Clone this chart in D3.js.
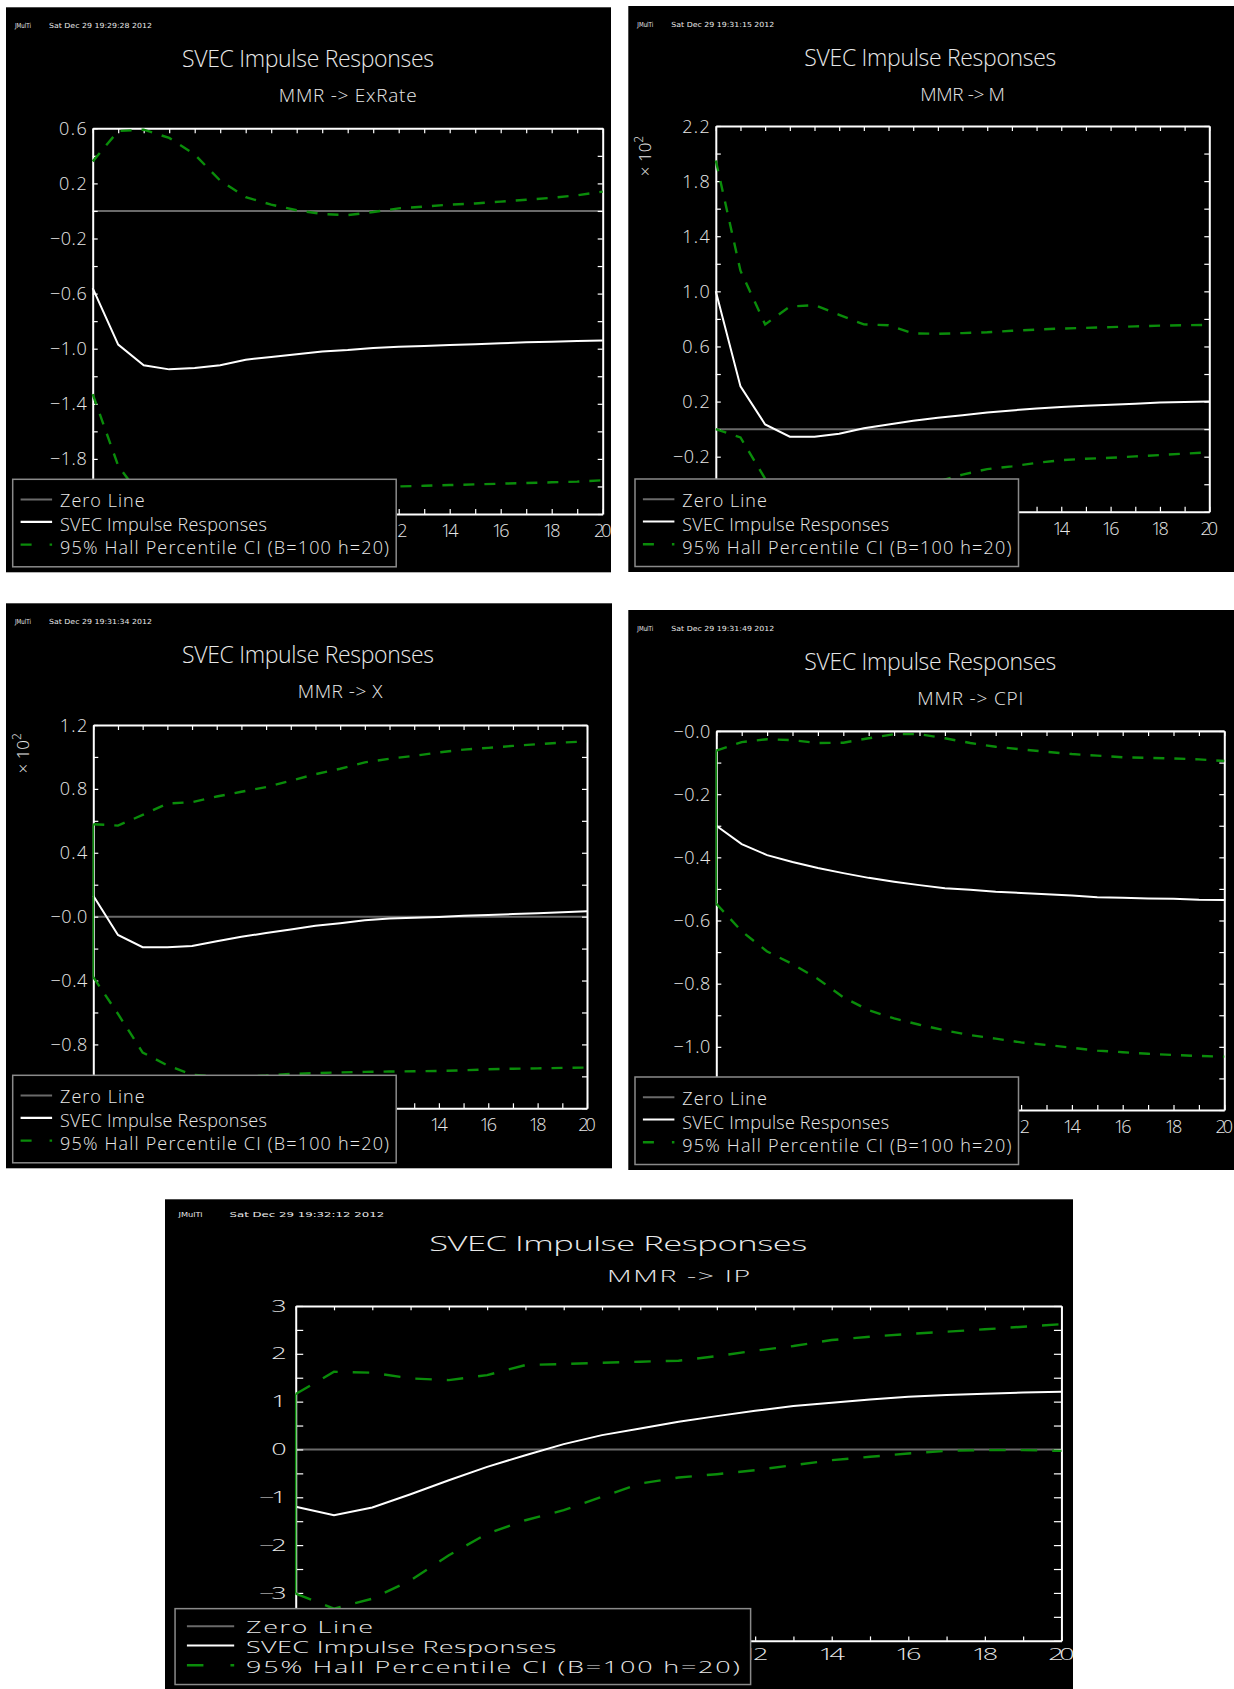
<!DOCTYPE html>
<html>
<head>
<meta charset="utf-8">
<script src="https://cdn.jsdelivr.net/npm/d3@7/dist/d3.min.js"></script>
<style>
	html, body { margin: 0; padding: 0; background: #fff; }
	svg text { font-family: "Open Sans", "DejaVu Sans", sans-serif; font-weight: 300; fill: #e8e8e8; }
	svg text.stamp { font-family: "DejaVu Sans", sans-serif; font-weight: normal; }
</style>
</head>
<body>
<svg id="chart" width="1234" height="1689"></svg>
<script>
// horizontes (eixo x)
var horizons = [0,1,2,3,4,5,6,7,8,9,10,11,12,13,14,15,16,17,18,19,20];
var xTickLabels = ["0","2","4","6","8","10","12","14","16","18","20"];

// MMR -> ExRate
var exrateIrf   = [-0.56,-0.97,-1.12,-1.15,-1.14,-1.12,-1.08,-1.06,-1.04,-1.02,-1.01,-0.995,-0.986,-0.98,-0.973,-0.968,-0.96,-0.954,-0.949,-0.944,-0.94];
var exrateUpper = [0.36,0.58,0.59,0.53,0.41,0.22,0.10,0.046,0.005,-0.022,-0.03,-0.008,0.019,0.032,0.046,0.054,0.068,0.081,0.095,0.114,0.14];
var exrateLower = [-1.33,-1.85,-2.1,-2.15,-2.12,-2.08,-2.05,-2.03,-2.02,-2.01,-2.005,-2.0,-2.0,-1.995,-1.99,-1.985,-1.98,-1.975,-1.97,-1.965,-1.955];

// MMR -> M (x 10^2)
var mIrf   = [1.0,0.31,0.034,-0.055,-0.055,-0.034,0.007,0.034,0.061,0.082,0.101,0.12,0.136,0.15,0.161,0.169,0.177,0.185,0.193,0.196,0.201];
var mUpper = [1.95,1.15,0.76,0.89,0.9,0.83,0.76,0.754,0.695,0.692,0.697,0.703,0.714,0.722,0.73,0.735,0.74,0.746,0.751,0.754,0.757];
var mLower = [0.0,-0.06,-0.36,-0.42,-0.46,-0.47,-0.46,-0.44,-0.41,-0.38,-0.33,-0.29,-0.27,-0.245,-0.225,-0.215,-0.208,-0.198,-0.188,-0.178,-0.168];

// MMR -> X (x 10^2)
var xIrf   = [0.131,-0.115,-0.191,-0.191,-0.184,-0.154,-0.126,-0.103,-0.08,-0.057,-0.041,-0.023,-0.011,-0.007,-0.002,0.005,0.011,0.016,0.021,0.028,0.034];
var xUpper = [0.579,0.57,0.637,0.708,0.717,0.752,0.782,0.811,0.851,0.892,0.926,0.966,0.989,1.007,1.028,1.046,1.057,1.069,1.08,1.09,1.097];
var xLower = [-0.379,-0.609,-0.851,-0.931,-0.99,-1.0,-1.0,-0.995,-0.985,-0.98,-0.975,-0.972,-0.97,-0.968,-0.966,-0.962,-0.956,-0.952,-0.95,-0.947,-0.945];

// MMR -> CPI
var cpiIrf   = [-0.3,-0.358,-0.393,-0.415,-0.434,-0.45,-0.465,-0.477,-0.488,-0.498,-0.503,-0.509,-0.513,-0.517,-0.521,-0.526,-0.528,-0.53,-0.531,-0.534,-0.535];
var cpiUpper = [-0.062,-0.035,-0.026,-0.029,-0.038,-0.037,-0.023,-0.01,-0.01,-0.023,-0.038,-0.05,-0.058,-0.066,-0.073,-0.078,-0.083,-0.085,-0.087,-0.09,-0.095];
var cpiLower = [-0.547,-0.634,-0.698,-0.738,-0.785,-0.843,-0.884,-0.91,-0.93,-0.948,-0.963,-0.974,-0.986,-0.994,-1.003,-1.012,-1.017,-1.022,-1.026,-1.029,-1.031];

// MMR -> IP
var ipIrf   = [-1.2,-1.376,-1.215,-0.936,-0.643,-0.364,-0.12,0.111,0.3,0.44,0.58,0.697,0.81,0.907,0.976,1.046,1.1,1.137,1.165,1.19,1.207];
var ipUpper = [1.158,1.625,1.604,1.486,1.45,1.555,1.765,1.786,1.814,1.835,1.856,1.953,2.065,2.163,2.288,2.358,2.414,2.463,2.512,2.567,2.62];
var ipLower = [-3.015,-3.33,-3.12,-2.736,-2.213,-1.759,-1.48,-1.27,-0.99,-0.712,-0.587,-0.517,-0.433,-0.328,-0.224,-0.154,-0.084,-0.03,-0.014,-0.014,-0.03];

// rótulos dos eixos y
var exrateYTicks = [0.6,0.2,-0.2,-0.6,-1.0,-1.4,-1.8,-2.2];
var exrateYLabels = ["0.6","0.2","\u22120.2","\u22120.6","\u22121.0","\u22121.4","\u22121.8","\u22122.2"];
var mYTicks = [2.2,1.8,1.4,1.0,0.6,0.2,-0.2,-0.6];
var mYLabels = ["2.2","1.8","1.4","1.0","0.6","0.2","\u22120.2","\u22120.6"];
var xYTicks = [1.2,0.8,0.4,0.0,-0.4,-0.8,-1.2];
var xYLabels = ["1.2","0.8","0.4","\u22120.0","\u22120.4","\u22120.8","\u22121.2"];
var cpiYTicks = [0.0,-0.2,-0.4,-0.6,-0.8,-1.0,-1.2];
var cpiYLabels = ["\u22120.0","\u22120.2","\u22120.4","\u22120.6","\u22120.8","\u22121.0","\u22121.2"];
var ipYTicks = [3,2,1,0,-1,-2,-3,-4];
var ipYLabels = ["3","2","1","0","\u22121","\u22122","\u22123","\u22124"];

var subtitles = ["MMR -> ExRate","MMR -> M","MMR -> X","MMR -> CPI","MMR -> IP"];
var stamps = ["Sat Dec 29 19:29:28 2012","Sat Dec 29 19:31:15 2012","Sat Dec 29 19:31:34 2012","Sat Dec 29 19:31:49 2012","Sat Dec 29 19:32:12 2012"];
var legendLabels = ["Zero Line","SVEC Impulse Responses","95% Hall Percentile CI (B=100 h=20)"];

var GREEN = "#0a8c0a";

// box = [x, y, w, h] em pixels; plot = [esq, dir, topo, base] em unidades nativas
var panels = [
	{ box: [6, 7.3, 605, 565], sx: 1, sy: 1, plot: [86.7, 596.7, 121, 506.7], domain: [-2.2, 0.6], step: 0.2,
	  irf: exrateIrf, upper: exrateUpper, lower: exrateLower, ticks: exrateYTicks, labels: exrateYLabels, edge: false, power: false },
	{ box: [628.3, 6, 606, 566], sx: 1, sy: 1, plot: [87.5, 581, 120, 505.8], domain: [-0.6, 2.2], step: 0.2,
	  irf: mIrf, upper: mUpper, lower: mLower, ticks: mYTicks, labels: mYLabels, edge: false, power: true },
	{ box: [6, 603.3, 606, 565], sx: 1, sy: 1, plot: [87.3, 581, 121.7, 505], domain: [-1.2, 1.2], step: 0.2,
	  irf: xIrf, upper: xUpper, lower: xLower, ticks: xYTicks, labels: xYLabels, edge: true, power: true },
	{ box: [628.3, 610, 606, 560], sx: 1, sy: 1, plot: [88, 596, 121, 500], domain: [-1.2, 0], step: 0.1,
	  irf: cpiIrf, upper: cpiUpper, lower: cpiLower, ticks: cpiYTicks, labels: cpiYLabels, edge: true, power: false },
	{ box: [165, 1199.3, 908, 490], sx: 1.5008, sy: 0.8673, plot: [87.1, 597.3, 123, 509], domain: [-4, 3], step: 0.5,
	  irf: ipIrf, upper: ipUpper, lower: ipLower, ticks: ipYTicks, labels: ipYLabels, edge: true, power: false }
];

/** Escreve um texto esticado conforme a escala do painel. */
function addText(g, x, y, str, size, sx, sy, anchor, len, rotate, adjust){
	var t = g.append("text")
		.attr("transform", "translate(" + x + "," + y + ") scale(" + sx + "," + sy + ")" + (rotate ? " rotate(" + rotate + ")" : ""))
		.attr("font-size", size)
		.attr("text-anchor", anchor || "start")
		.text(str);
	if ( len )
		t.attr("textLength", len).attr("lengthAdjust", adjust || "spacing");
	return t;
}

function styleAxis(a){
	a.select(".domain").attr("stroke", "#fff").attr("stroke-width", 2);
	a.selectAll(".tick line").attr("stroke", "#fff").attr("stroke-width", 1.2);
	a.selectAll(".tick text").remove();
}

function drawPanel(svg, p, idx){
	var sx = p.sx, sy = p.sy;
	var W = p.box[2], H = p.box[3];
	var g = svg.append("g").attr("transform", "translate(" + p.box[0] + "," + p.box[1] + ")");
	g.append("rect").attr("width", W).attr("height", H).attr("fill", "#000");

	var L = p.plot[0] * sx, R = p.plot[1] * sx, T = p.plot[2] * sy, B = p.plot[3] * sy;
	var x = d3.scaleLinear().domain([0, 20]).range([L, R]);
	var y = d3.scaleLinear().domain(p.domain).range([B, T]);

	// caixa da legenda (coordenadas do grupo)
	var ly = (H / sy - 93) * sy;
	var lx0 = 6.7 * sx, lx1 = 390.2 * sx;

	var clipId = "clip" + idx;
	g.append("clipPath").attr("id", clipId)
		.append("rect").attr("x", L - 2).attr("y", T - 2).attr("width", R - L + 4).attr("height", B - T + 4);

	// linha zero
	g.append("line")
		.attr("x1", L).attr("x2", R).attr("y1", y(0)).attr("y2", y(0))
		.attr("stroke", "#6a6a6a").attr("stroke-width", 2);

	// moldura + marcas (todas para dentro)
	var nY = Math.round((p.domain[1] - p.domain[0]) / p.step);
	var yMinor = d3.range(0, nY + 1).map(function(k){ return p.domain[0] + k * p.step; });
	var xMinor = horizons;

	styleAxis(g.append("g").attr("transform", "translate(" + L + ",0)")
		.call(d3.axisLeft(y).tickValues(yMinor).tickSizeInner(-5 * sx).tickSizeOuter(0).tickFormat("")));
	styleAxis(g.append("g").attr("transform", "translate(" + R + ",0)")
		.call(d3.axisRight(y).tickValues(yMinor).tickSizeInner(-5 * sx).tickSizeOuter(0).tickFormat("")));
	styleAxis(g.append("g").attr("transform", "translate(0," + T + ")")
		.call(d3.axisTop(x).tickValues(xMinor).tickSizeInner(-5 * sy).tickSizeOuter(0).tickFormat("")));
	styleAxis(g.append("g").attr("transform", "translate(0," + B + ")")
		.call(d3.axisBottom(x).tickValues(xMinor).tickSizeInner(-5 * sy).tickSizeOuter(0).tickFormat("")));

	// séries
	var line = d3.line()
		.x(function(d, i){ return x(horizons[i]); })
		.y(function(d){ return y(d); });
	var series = g.append("g").attr("clip-path", "url(#" + clipId + ")");
	[p.upper, p.lower].forEach(function(s){
		series.append("path")
			.attr("d", line(s))
			.attr("fill", "none")
			.attr("stroke", GREEN)
			.attr("stroke-width", 2.4)
			.attr("stroke-dasharray", (11 * sx) + "," + (10 * sx));
	});
	series.append("path")
		.attr("d", line(p.irf))
		.attr("fill", "none")
		.attr("stroke", "#fff")
		.attr("stroke-width", 2);
	if ( p.edge ){
		g.append("line")
			.attr("x1", x(0)).attr("x2", x(0))
			.attr("y1", y(p.upper[0])).attr("y2", y(p.lower[0]))
			.attr("stroke", GREEN).attr("stroke-width", 1.6);
	}

	// rótulos do eixo y (os que ficam escondidos pela legenda não são desenhados)
	p.ticks.forEach(function(t, i){
		if ( y(t) - 6.5 * sy > ly ) return;
		var s = p.labels[i];
		addText(g, L - 6 * sx, y(t) + 6.5 * sy, s, 18, sx, sy, "end", s.length * 9.2);
	});
	// rótulos do eixo x
	xTickLabels.forEach(function(s){
		var hw = s.length * 8.8 * sx / 2;
		if ( x(+s) + hw < lx1 + 4 * sx ) return;
		addText(g, x(+s), B + 22.7 * sy, s, 18, sx, sy, "middle", s.length * 8.8);
	});

	// cabeçalho
	addText(g, 9 * sx, 20.5 * sy, "JMulTi", 7, sx, sy, "start", 16, null, "spacingAndGlyphs").attr("class", "stamp");
	addText(g, 43 * sx, 20.5 * sy, stamps[idx], 7, sx, sy, "start", 103, null, "spacingAndGlyphs").attr("class", "stamp");
	addText(g, 302 * sx, 60 * sy, "SVEC Impulse Responses", 23, sx, sy, "middle", 252);
	addText(g, (L + R) / 2, 95 * sy, subtitles[idx], 19, sx, sy, "middle", subtitles[idx].length * 10.6);

	if ( p.power ){
		var pw = addText(g, 23 * sx, 150 * sy, "\u00d7 10", 17, sx, sy, "middle", null, -90);
		pw.append("tspan").attr("font-size", 12).attr("dy", -8).text("2");
	}

	// legenda
	var lg = g.append("g").attr("transform", "translate(0," + ly + ")");
	lg.append("rect")
		.attr("x", lx0).attr("y", 0)
		.attr("width", lx1 - lx0).attr("height", 87.5 * sy)
		.attr("fill", "#000").attr("stroke", "#8a8a8a").attr("stroke-width", 1.5);
	var rowLine = [20.3, 42.5, 65.3], rowText = [27.7, 51.7, 74.6];
	var rowStyle = [
		{ stroke: "#6a6a6a", dash: null, w: 2 },
		{ stroke: "#fff", dash: null, w: 2.2 },
		{ stroke: GREEN, dash: (11 * sx) + "," + (18 * sx), w: 2.4 }
	];
	legendLabels.forEach(function(s, i){
		lg.append("line")
			.attr("x1", 14.6 * sx).attr("x2", 46.1 * sx)
			.attr("y1", rowLine[i] * sy).attr("y2", rowLine[i] * sy)
			.attr("stroke", rowStyle[i].stroke)
			.attr("stroke-width", rowStyle[i].w)
			.attr("stroke-dasharray", rowStyle[i].dash);
		addText(lg, 54 * sx, rowText[i] * sy, s, 18, sx, sy, "start", s.length * 9.4);
	});
}

var svg = d3.select("#chart");
panels.forEach(function(p, i){ drawPanel(svg, p, i); });
</script>
</body>
</html>
